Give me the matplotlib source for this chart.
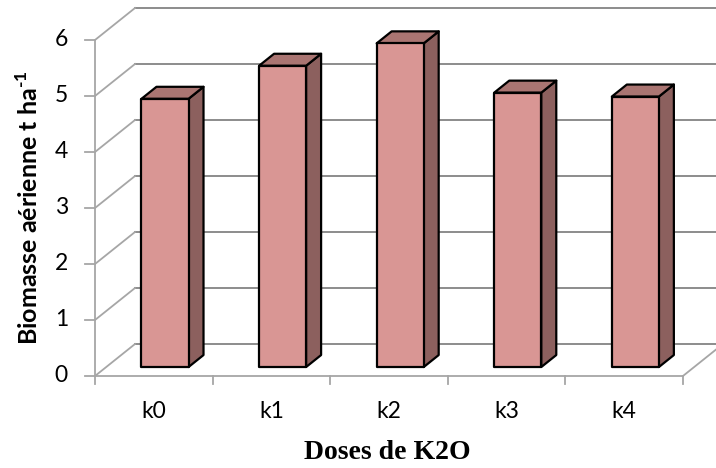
import matplotlib.pyplot as plt
from matplotlib.patches import Polygon

# data
categories = ['k0', 'k1', 'k2', 'k3', 'k4']
biomasse = [4.79, 5.38, 5.78, 4.90, 4.83]
yticks = [0, 1, 2, 3, 4, 5, 6]

plt.rcParams['font.family'] = ['Lato', 'DejaVu Sans']
plt.rcParams['mathtext.fontset'] = 'custom'
plt.rcParams['mathtext.rm'] = 'Lato:bold'
plt.rcParams['mathtext.bf'] = 'Lato:bold'

fig = plt.figure(figsize=(7.16, 4.68), dpi=100)
ax = fig.add_axes([0, 0, 1, 1])
ax.set_xlim(-0.808, 5.281)
ax.set_ylim(-1.643, 6.714)
ax.axis('off')

# oblique depth offset (data units)
ox, oy = 0.340, 0.571
n = len(categories)
ymax = yticks[-1]

grid_back = '#8c8c8c'
grid_side = '#a6a6a6'

# back wall gridlines
for k in yticks:
    ax.plot([ox, n + ox], [k + oy, k + oy], color=grid_back, lw=1.4, zorder=1)
# left wall gridlines + front edge
for k in yticks:
    ax.plot([0, ox], [k, k + oy], color=grid_side, lw=1.3, zorder=1)
ax.plot([0, 0], [0, ymax], color=grid_side, lw=1.3, zorder=1)
# floor
ax.plot([0, n], [0, 0], color=grid_side, lw=1.3, zorder=1)
ax.plot([n, n + ox], [0, oy], color=grid_side, lw=1.3, zorder=1)
# ticks
for i in range(n + 1):
    ax.plot([i, i], [0, -0.15], color=grid_side, lw=1.3, zorder=1)
for k in yticks:
    ax.plot([-0.085, 0], [k, k], color=grid_side, lw=1.3, zorder=1)
    ax.text(-0.23, k, str(k), ha='right', va='center', fontsize=16.5)

# bars
c_front = '#d99694'
c_top = '#aa7572'
c_side = '#8c605e'
w = 0.4
d0, d1 = 0.28, 0.655
for i, (cat, v) in enumerate(zip(categories, biomasse)):
    x0 = i + 0.5 - w / 2
    x1 = i + 0.5 + w / 2
    a = (d0 * ox, d0 * oy)
    b = (d1 * ox, d1 * oy)
    side = [(x1 + a[0], a[1]), (x1 + b[0], b[1]), (x1 + b[0], v + b[1]), (x1 + a[0], v + a[1])]
    top = [(x0 + a[0], v + a[1]), (x1 + a[0], v + a[1]), (x1 + b[0], v + b[1]), (x0 + b[0], v + b[1])]
    front = [(x0 + a[0], a[1]), (x1 + a[0], a[1]), (x1 + a[0], v + a[1]), (x0 + a[0], v + a[1])]
    for pts, col in [(side, c_side), (top, c_top), (front, c_front)]:
        ax.add_patch(Polygon(pts, closed=True, facecolor=col, edgecolor='black',
                             lw=1.6, joinstyle='round', zorder=3))
    ax.text(i + 0.5, -0.64, cat, ha='center', va='center', fontsize=16.5)

ax.text(-0.56, 3.0, 'Biomasse aérienne t ha$^{\\text{-1}}$', rotation=90, ha='center', va='center',
        fontsize=18, fontweight='bold')
ax.text(2.49, -1.37, 'Doses de K2O', ha='center', va='center', fontsize=20,
        fontweight='bold', family='Liberation Serif')

fig.savefig('out.png', dpi=100)
